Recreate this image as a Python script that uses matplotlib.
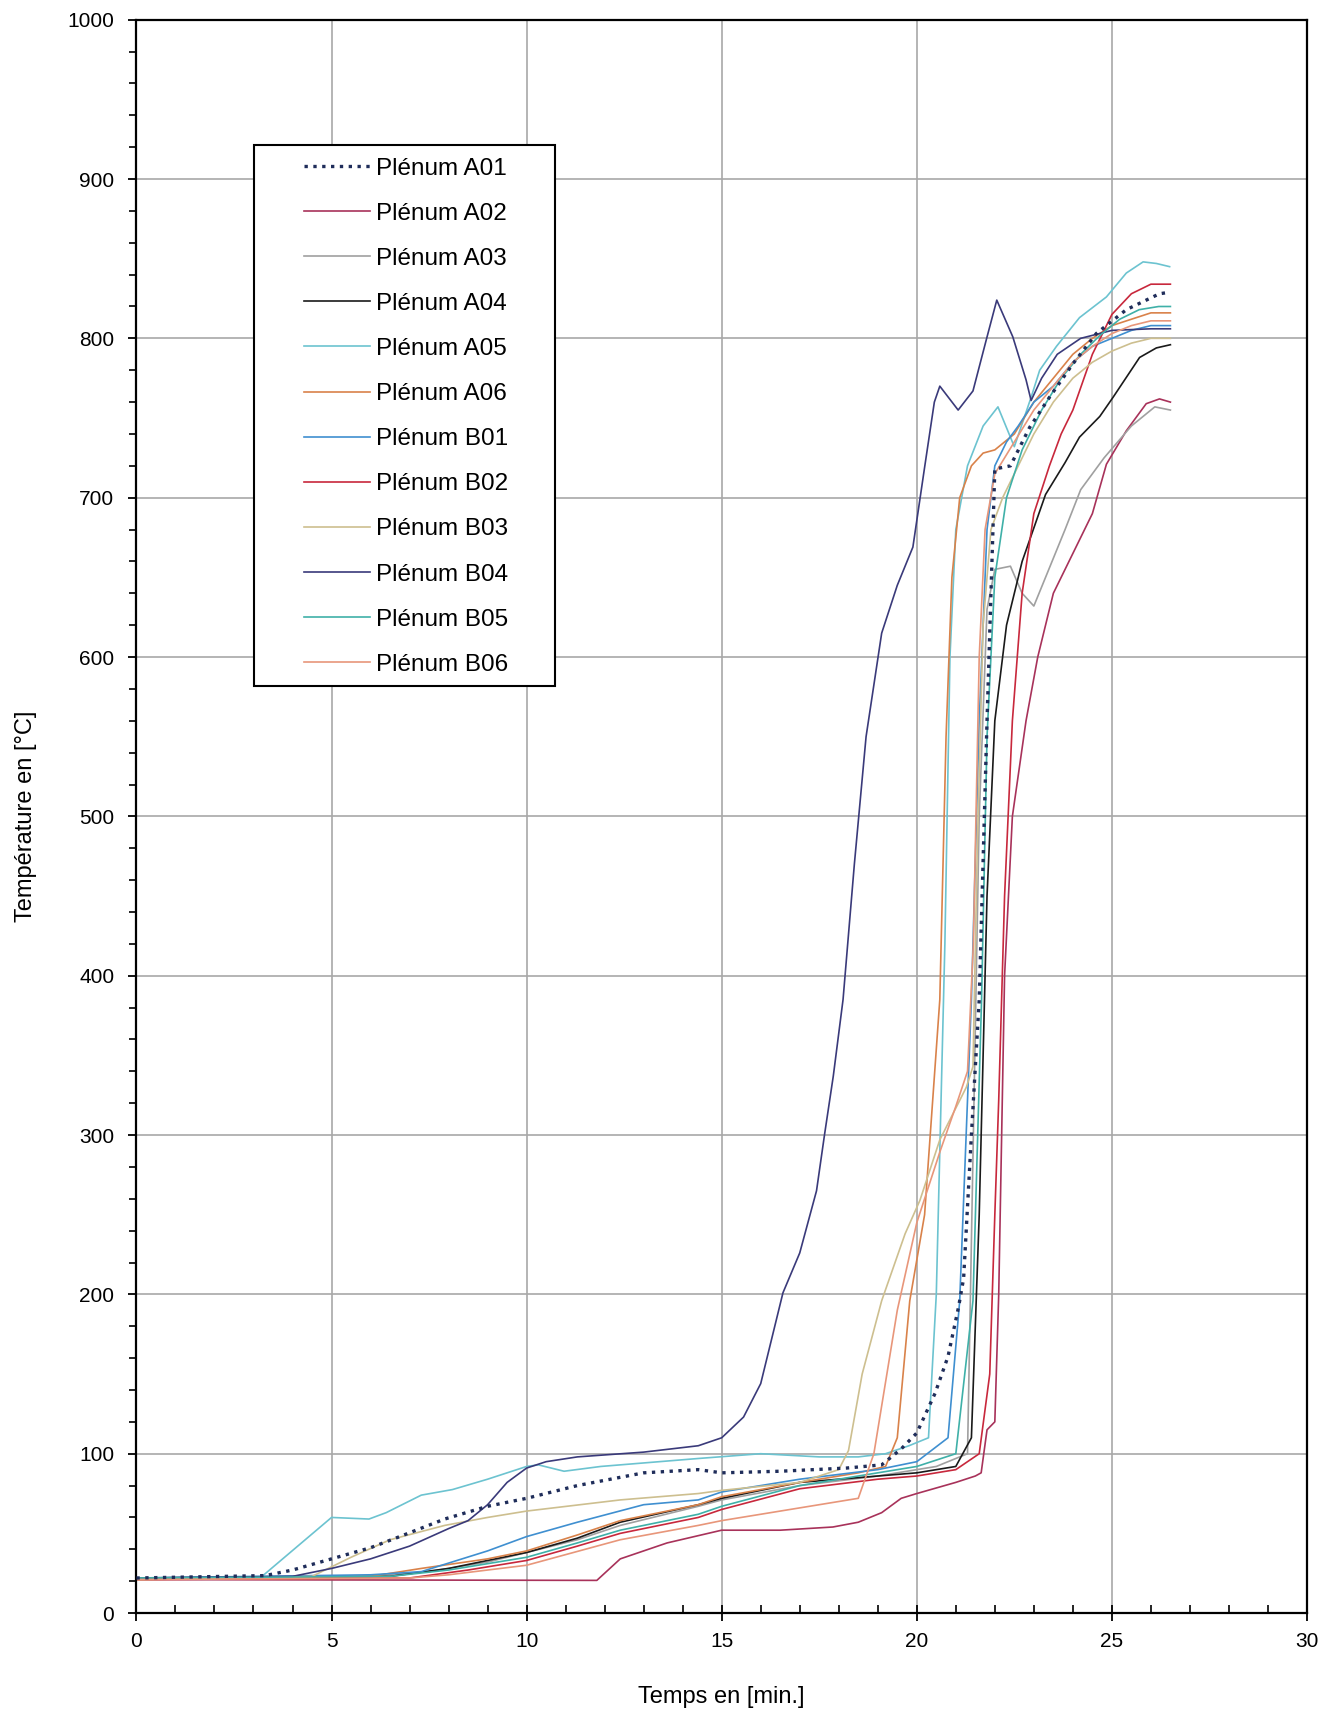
import numpy as np
import matplotlib
matplotlib.use("Agg")
from matplotlib import pyplot as plt
from matplotlib.patches import Rectangle
from matplotlib.ticker import MultipleLocator

plt.rcParams['font.family'] = ['Liberation Sans', 'DejaVu Sans']

# temps [min] / temperature [C], one pair per sensor
t_a01 = [0, 3.3, 4, 5, 6, 6.75, 7.9, 9, 10, 11.3, 13, 14.4, 15, 16.5, 18.2, 19.1, 19.6, 20, 20.47, 20.8, 21.07, 21.2, 21.4, 21.6, 21.8, 22.0, 22.4, 22.89, 23.4, 24.0, 24.6, 25.37, 26.22, 26.5]
T_a01 = [22, 23.5, 27, 34, 41, 48, 59, 67, 72, 80, 88, 90, 88, 89, 91, 93, 103, 113, 138, 161, 192, 210, 300, 385, 560, 718, 720, 744, 763, 784, 803, 818, 828, 829]

t_a02 = [0, 11.8, 12.4, 13.6, 15, 16.5, 17.85, 18.5, 19.1, 19.6, 20, 21, 21.5, 21.65, 21.8, 22.0, 22.1, 22.25, 22.45, 22.8, 23.1, 23.5, 24, 24.5, 24.86, 25.37, 25.88, 26.22, 26.5]
T_a02 = [21, 20.5, 34, 44, 52, 52, 54, 57, 63, 72, 75, 82, 86, 88, 115, 120, 200, 400, 500, 560, 600, 640, 665, 690, 721, 742, 759, 762, 760]

t_a03 = [0, 6, 7.5, 9, 10, 11.3, 12.4, 14.4, 15, 17, 19, 20.5, 21.3, 21.45, 21.6, 21.8, 22.0, 22.4, 22.7, 23.0, 23.3, 23.8, 24.2, 24.8, 25.5, 26.1, 26.5]
T_a03 = [22, 23, 26, 32, 38, 46, 55, 67, 71, 80, 86, 92, 100, 300, 500, 630, 655, 657, 640, 632, 650, 680, 705, 725, 745, 757, 755]

t_a04 = [0, 6.5, 8, 9, 10, 11.3, 12.4, 14.4, 15, 17, 19, 20, 21.0, 21.4, 21.6, 21.8, 22.0, 22.3, 22.7, 23.3, 23.8, 24.17, 24.69, 25.03, 25.71, 26.14, 26.5]
T_a04 = [22, 23, 28, 33, 38, 47, 57, 68, 72, 82, 86, 88, 92, 110, 250, 450, 560, 620, 660, 702, 722, 738, 751, 763, 788, 794, 796]

t_a05 = [0, 3.17, 5, 5.96, 6.4, 7.3, 8.1, 9.0, 10, 10.3, 10.96, 11.9, 14.4, 16, 17.5, 18.5, 19.2, 19.8, 20.3, 20.5, 20.72, 20.85, 21.0, 21.3, 21.7, 22.08, 22.5, 22.93, 23.15, 23.58, 24.17, 24.86, 25.37, 25.8, 26.14, 26.48]
T_a05 = [22, 22, 60, 59, 63, 74, 77.5, 84, 92, 93, 89, 92, 97, 100, 98, 98, 100, 105, 110, 200, 420, 600, 680, 720, 745, 757, 732, 763, 780, 795, 813, 826, 841, 848, 847, 845]

t_a06 = [0, 6, 7.3, 9, 10, 11.3, 12.4, 14.4, 15, 17, 18.5, 19.2, 19.5, 19.82, 20.2, 20.59, 20.75, 20.9, 21.1, 21.4, 21.7, 22.0, 22.5, 23, 23.5, 24, 24.5, 25, 25.5, 26, 26.5]
T_a06 = [21, 23, 28, 34, 39, 49, 58, 68, 73, 82, 88, 92, 110, 196, 250, 385, 550, 650, 700, 720, 728, 730, 740, 760, 775, 790, 800, 808, 812, 816, 816]

t_b01 = [0, 6, 7.3, 9, 10, 11.3, 13, 14.4, 15, 17, 19, 20, 20.8, 21.1, 21.4, 21.6, 21.8, 22.0, 22.3, 22.6, 23, 23.5, 24, 24.5, 25, 25.5, 26, 26.5]
T_b01 = [22, 24, 26, 39, 48, 57, 68, 71, 76, 84, 90, 95, 110, 196, 385, 560, 680, 720, 735, 745, 760, 770, 785, 795, 800, 805, 808, 808]

t_b02 = [0, 7, 8.5, 10, 11.3, 12.4, 14.4, 15, 17, 19, 20, 21, 21.6, 21.87, 22.0, 22.1, 22.25, 22.45, 22.7, 23.0, 23.4, 23.7, 24.0, 24.5, 25.0, 25.5, 26, 26.5]
T_b02 = [21, 22, 27, 33, 42, 50, 60, 65, 78, 84, 86, 90, 100, 150, 250, 322, 450, 560, 640, 690, 720, 740, 755, 790, 815, 828, 834, 834]

t_b03 = [0, 4.5, 5.5, 6.5, 7.9, 9, 10, 12.4, 14.4, 15, 17, 18, 18.25, 18.6, 19.1, 19.7, 20.08, 20.59, 21.27, 21.44, 21.55, 21.7, 21.9, 22.2, 22.6, 23, 23.5, 24, 24.5, 25, 25.5, 26, 26.5]
T_b03 = [21, 23, 35, 46, 55, 60, 64, 71, 75, 77, 82, 90, 102, 150, 196, 238, 259, 297, 330, 343, 480, 620, 680, 700, 720, 740, 760, 775, 785, 792, 797, 800, 800]

t_b04 = [0, 4, 5, 6, 7, 8, 8.5, 9, 9.5, 10, 10.5, 11.3, 13, 14.4, 15, 15.56, 16, 16.57, 17.0, 17.43, 17.64, 17.86, 18.11, 18.4, 18.7, 19.1, 19.5, 19.9, 20.2, 20.45, 20.59, 21.06, 21.44, 21.78, 22.05, 22.46, 22.8, 22.93, 23.2, 23.6, 24.2, 25, 26, 26.5]
T_b04 = [22, 23, 28, 34, 42, 53, 58, 68, 82, 91, 95, 98, 101, 105, 110, 123, 144, 201, 226, 265, 301, 337, 385, 470, 550, 615, 645, 669, 719, 760, 770, 755, 767, 799, 824, 801, 774, 761, 775, 790, 800, 805, 806, 806]

t_b05 = [0, 6.5, 8, 9, 10, 11.3, 12.4, 14.4, 15, 17, 19, 20, 21, 21.44, 21.66, 21.8, 22, 22.3, 22.7, 23.2, 23.7, 24.2, 24.7, 25.2, 25.7, 26.2, 26.5]
T_b05 = [22, 23, 27, 31, 35, 44, 52, 62, 67, 80, 88, 92, 100, 196, 385, 550, 650, 700, 730, 755, 775, 790, 802, 812, 818, 820, 820]

t_b06 = [0, 7, 8, 10, 12.4, 14.4, 15, 16.5, 17.5, 18.5, 18.9, 19.5, 20.0, 20.6, 21.0, 21.3, 21.45, 21.6, 21.75, 22.0, 22.5, 23, 23.5, 24, 24.5, 25, 25.5, 26, 26.5]
T_b06 = [21, 22, 24, 30, 46, 55, 58, 64, 68, 72, 100, 190, 245, 290, 318, 340, 420, 600, 680, 715, 735, 755, 770, 785, 795, 803, 808, 811, 811]

labels = ['Plénum A01', 'Plénum A02', 'Plénum A03', 'Plénum A04', 'Plénum A05', 'Plénum A06',
          'Plénum B01', 'Plénum B02', 'Plénum B03', 'Plénum B04', 'Plénum B05', 'Plénum B06']
series = [(t_a01, T_a01), (t_a02, T_a02), (t_a03, T_a03), (t_a04, T_a04), (t_a05, T_a05), (t_a06, T_a06),
          (t_b01, T_b01), (t_b02, T_b02), (t_b03, T_b03), (t_b04, T_b04), (t_b05, T_b05), (t_b06, T_b06)]
colors = ['#1f2d5a', '#a8325a', '#a0a0a0', '#1a1a1a', '#6cc3d0', '#d9824a',
          '#3f8fd0', '#c8283c', '#cdbf8f', '#3a3a7a', '#3fb0a8', '#e8967a']

fig = plt.figure(figsize=(13.35, 17.12), dpi=100)
ax = fig.add_axes([0.1022, 0.0578, 0.8768, 0.9307])

for (t, T), lab, c in zip(series, labels, colors):
    if lab.endswith('A01'):
        ax.plot(t, T, ':', color=c, lw=2.4, label=lab, zorder=3)
    else:
        ax.plot(t, T, '-', color=c, lw=1.2, label=lab, zorder=2)

ax.set_xlim(0, 30)
ax.set_ylim(0, 1000)
ax.xaxis.set_major_locator(MultipleLocator(5))
ax.xaxis.set_minor_locator(MultipleLocator(1))
ax.yaxis.set_major_locator(MultipleLocator(100))
ax.yaxis.set_minor_locator(MultipleLocator(20))
ax.grid(True, which='major', color='#a8a8a8', lw=1.2, zorder=0)
ax.set_axisbelow(True)

for s in ax.spines.values():
    s.set_linewidth(1.6)
    s.set_color('black')

ax.tick_params(axis='x', which='major', direction='inout', length=12, width=1.3, labelsize=15, pad=8)
ax.tick_params(axis='x', which='minor', direction='in', length=6, width=1.2)
ax.tick_params(axis='y', which='major', direction='out', length=6, width=1.3, labelsize=15, pad=10)
ax.tick_params(axis='y', which='minor', direction='out', length=5, width=1.2)

ax.set_xlabel('Temps en [min.]', fontsize=17, labelpad=25)
ax.set_ylabel('Température en [°C]', fontsize=17, labelpad=22)

# legend box drawn by hand, entries placed inside it
ax.add_patch(Rectangle((0.1004, 0.5818), 0.2571, 0.3393, transform=ax.transAxes,
                       facecolor='white', edgecolor='black', lw=1.5, zorder=5))
leg = ax.legend(loc='upper left', bbox_to_anchor=(0.1329, 0.9211), frameon=False,
                fontsize=17.5, borderpad=0, handlelength=2.7, handletextpad=0.25,
                labelspacing=0.95)
leg.set_zorder(6)

fig.savefig('out.png', dpi=100)
